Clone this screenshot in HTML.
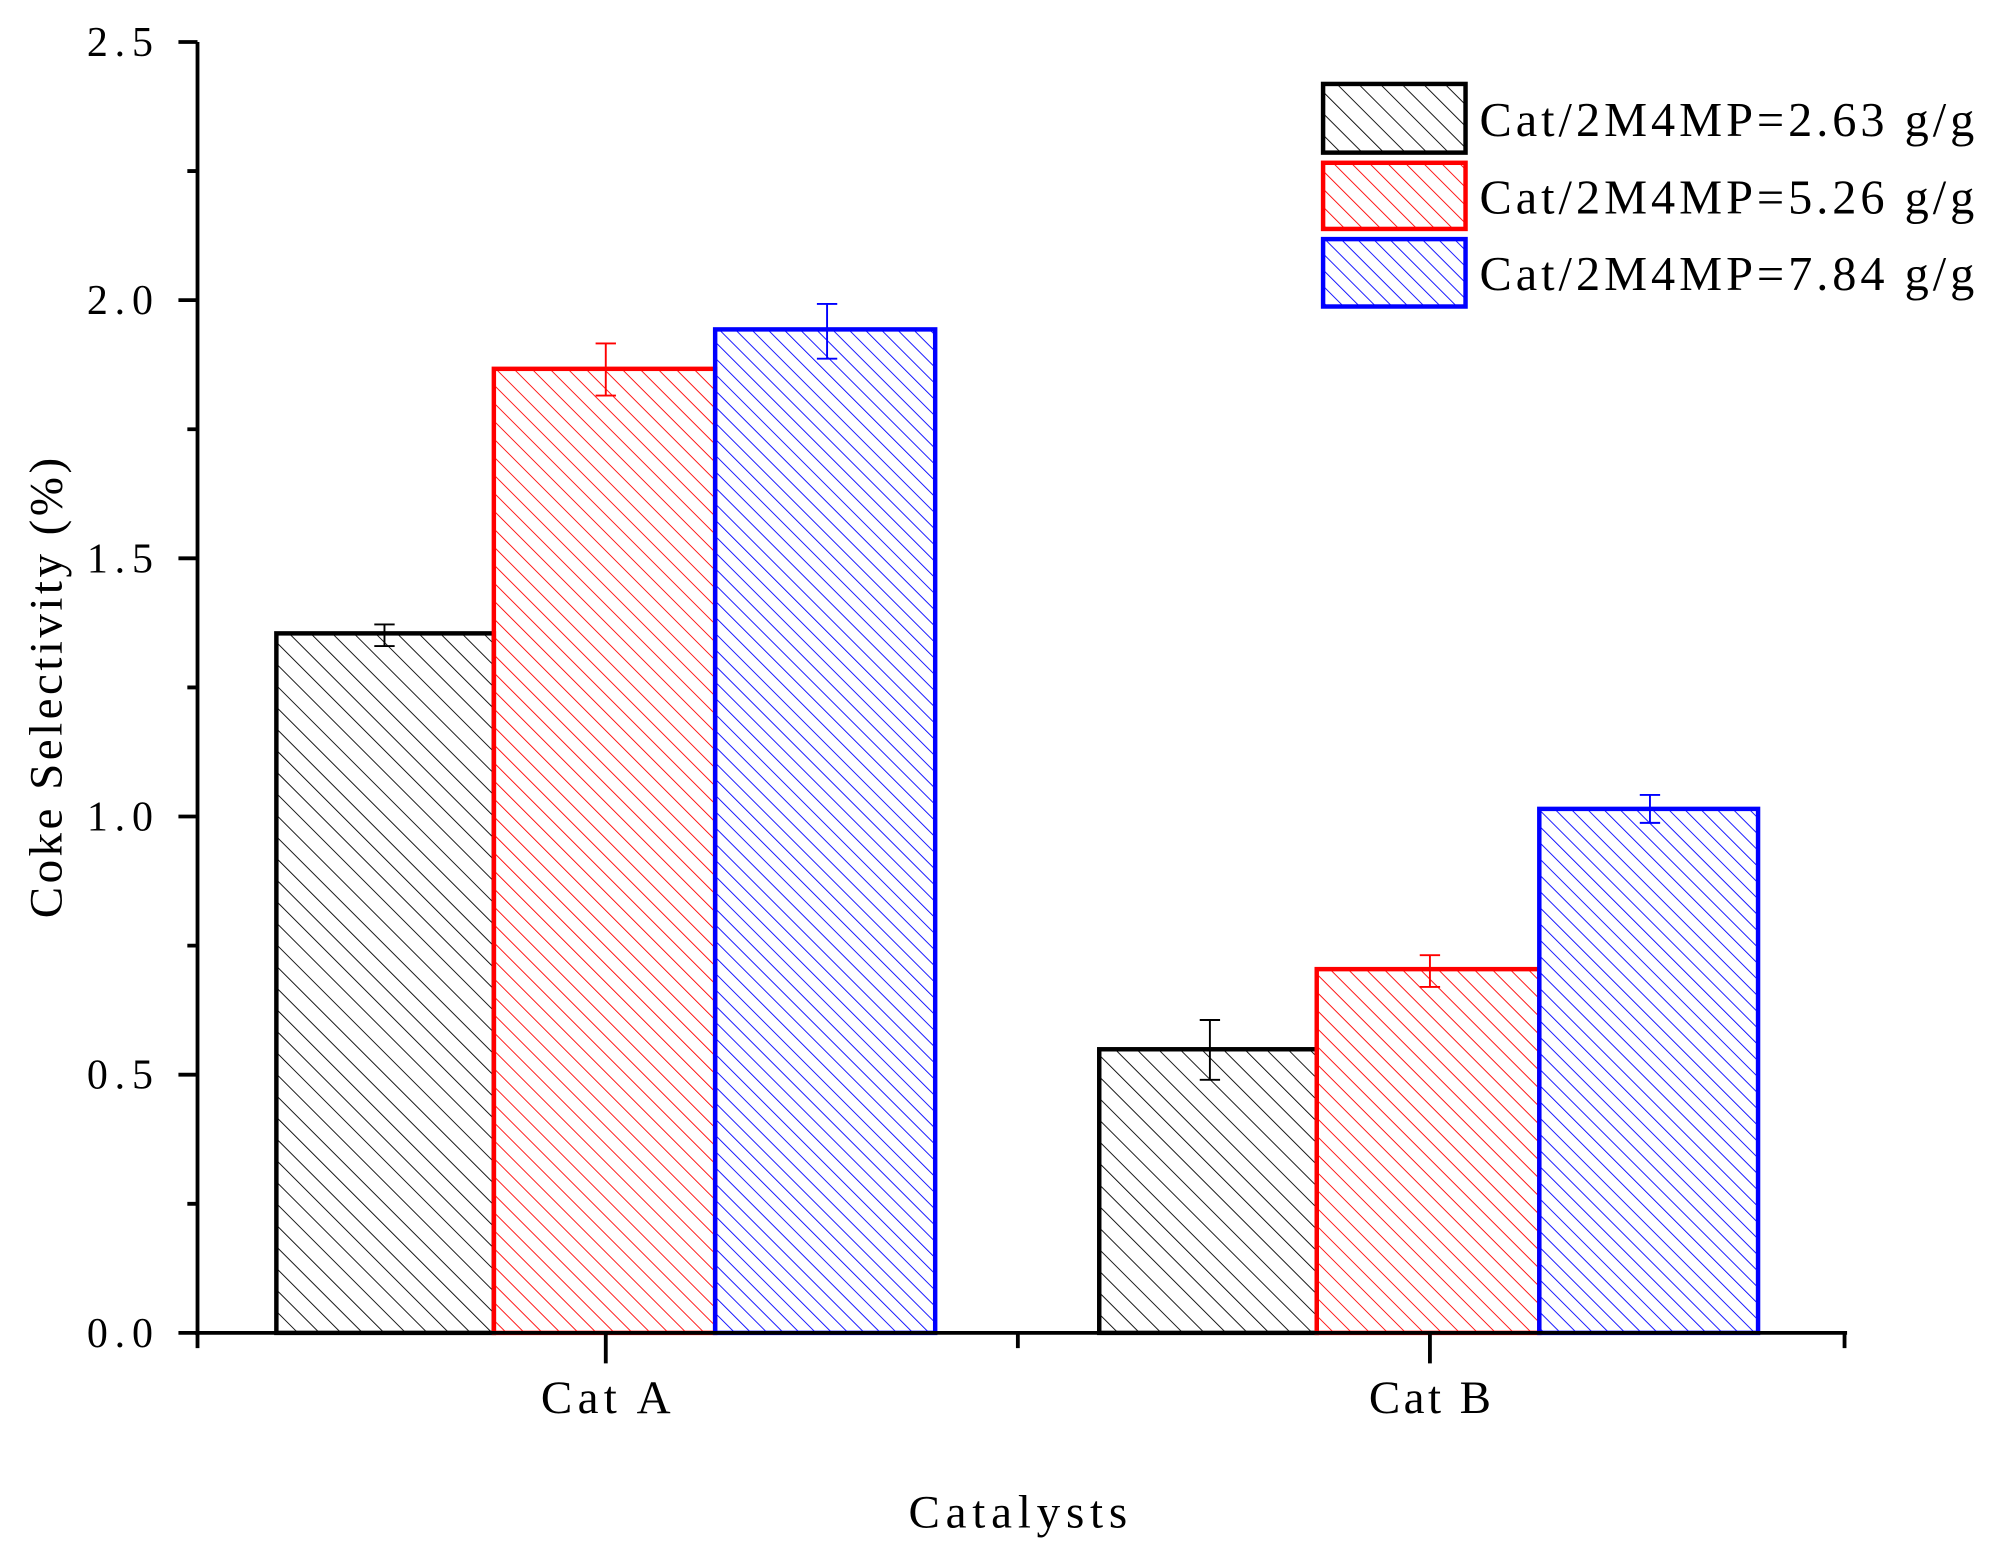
<!DOCTYPE html>
<html><head><meta charset="utf-8"><style>html,body{margin:0;padding:0;background:#fff}svg{display:block}</style></head>
<body>
<svg width="1995" height="1558" viewBox="0 0 1568 1225" xmlns="http://www.w3.org/2000/svg" font-family="'Liberation Serif',serif">
<defs>
<pattern id="hk" width="12" height="12" patternUnits="userSpaceOnUse" patternTransform="rotate(-45)"><line x1="0" y1="0" x2="0" y2="12" stroke="#000" stroke-width="1.4"/></pattern>
<pattern id="hr" width="10" height="10" patternUnits="userSpaceOnUse" patternTransform="rotate(-45)"><line x1="0" y1="0" x2="0" y2="10" stroke="#f00" stroke-width="1.4"/></pattern>
<pattern id="hb" width="9" height="9" patternUnits="userSpaceOnUse" patternTransform="rotate(-45)"><line x1="0" y1="0" x2="0" y2="9" stroke="#00f" stroke-width="1.4"/></pattern>
</defs>
<rect width="1568" height="1225" fill="#fff"/>
<g stroke-width="3.5">
<rect x="217" y="498" width="171" height="550" fill="url(#hk)" stroke="#000"/>
<rect x="388" y="290" width="174" height="758" fill="url(#hr)" stroke="#f00"/>
<rect x="562" y="259" width="173" height="789" fill="url(#hb)" stroke="#00f"/>
<rect x="864" y="825" width="171" height="223" fill="url(#hk)" stroke="#000"/>
<rect x="1035" y="762" width="175" height="286" fill="url(#hr)" stroke="#f00"/>
<rect x="1210" y="636" width="172" height="412" fill="url(#hb)" stroke="#00f"/>
</g>
<g stroke-width="1.5" fill="none">
<path d="M302 508V491M294 491H310M294 508H310" stroke="#000"/>
<path d="M476 311V270M468 270H484M468 311H484" stroke="#f00"/>
<path d="M650 282V239M642 239H658M642 282H658" stroke="#00f"/>
<path d="M951 849V802M943 802H959M943 849H959" stroke="#000"/>
<path d="M1124 776V751M1116 751H1132M1116 776H1132" stroke="#f00"/>
<path d="M1297 647V625M1289 625H1305M1289 647H1305" stroke="#00f"/>
</g>
<g stroke="#000" stroke-width="3" fill="none">
<path d="M155 33V1050M153 1048H1452"/>
<path d="M155 33H140M155 236H140M155 439H140M155 642H140M155 845H140M155 1048H140"/>
<path d="M155 134.5H147M155 337.5H147M155 540.5H147M155 743.5H147M155 946.5H147"/>
<path d="M476 1048V1072M1124 1048V1072M155 1048V1060M800 1048V1060M1450 1048V1060"/>
</g>
<g font-size="33" text-anchor="end">
<text x="120" y="44" textLength="52">2.5</text><text x="120" y="247" textLength="52">2.0</text><text x="120" y="450" textLength="52">1.5</text>
<text x="120" y="653" textLength="52">1.0</text><text x="120" y="856" textLength="52">0.5</text><text x="120" y="1059" textLength="52">0.0</text>
</g>
<g font-size="37">
<text x="425" y="1111" textLength="102">Cat A</text><text x="1076" y="1111" textLength="96">Cat B</text>
<text x="714" y="1201" textLength="172">Catalysts</text>
<text transform="translate(48,722) rotate(-90)" textLength="362">Coke Selectivity (%)</text>
</g>
<g stroke-width="3.5">
<rect x="1040" y="66" width="112" height="54" fill="url(#hk)" stroke="#000"/>
<rect x="1040" y="128" width="112" height="52" fill="url(#hr)" stroke="#f00"/>
<rect x="1040" y="188" width="112" height="53" fill="url(#hb)" stroke="#00f"/>
</g>
<g font-size="38">
<text x="1163" y="107" textLength="389">Cat/2M4MP=2.63 g/g</text>
<text x="1163" y="168" textLength="389">Cat/2M4MP=5.26 g/g</text>
<text x="1163" y="228" textLength="389">Cat/2M4MP=7.84 g/g</text>
</g>
</svg>
</body></html>
